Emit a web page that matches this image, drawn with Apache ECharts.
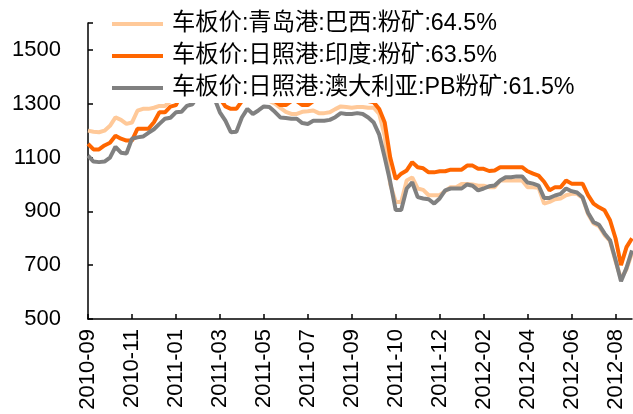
<!DOCTYPE html>
<html>
<head>
<meta charset="utf-8">
<script src="https://cdn.jsdelivr.net/npm/echarts@6/dist/echarts.min.js"></script>
<style>html,body{margin:0;padding:0;background:#fff;}#c{width:633px;height:414px;}</style>
</head>
<body>
<div id="c"></div>
<script>
var tickLabels = ['2010-09','2010-11','2011-01','2011-03','2011-05','2011-07','2011-09','2011-10','2011-12','2012-02','2012-04','2012-06','2012-08'];
var pointsPerTick = 8;
var seriesNames = ['车板价:青岛港:巴西:粉矿:64.5%','车板价:日照港:印度:粉矿:63.5%','车板价:日照港:澳大利亚:PB粉矿:61.5%'];
var brazil = [1200,1196,1194,1200,1218,1249,1240,1225,1230,1274,1281,1281,1285,1292,1292,1310,1340,1370,1400,1420,
  1440,1420,1400,1380,1350,1330,1320,1320,1330,1340,1330,1320,1320,1310,1300,1285,1270,1262,1262,1270,
  1272,1275,1265,1265,1268,1280,1290,1288,1285,1288,1288,1285,1285,1262,1180,1000,935,935,1015,1026,
  985,980,960,960,960,975,990,990,1002,1002,1000,995,995,990,990,1015,1015,1015,1015,1015,
  990,990,988,929,935,945,948,960,965,965,950,890,855,845,812,790,715,650,685,745];
var india = [1151,1130,1130,1145,1155,1181,1170,1163,1163,1207,1207,1207,1231,1268,1268,1289,1295,1340,1380,1400,
  1420,1400,1380,1350,1320,1290,1281,1281,1310,1330,1330,1320,1330,1320,1310,1295,1295,1310,1310,1295,
  1295,1310,1315,1320,1315,1320,1320,1315,1320,1315,1315,1310,1305,1280,1230,1100,1020,1040,1052,1083,
  1064,1060,1045,1045,1049,1049,1055,1055,1055,1070,1070,1058,1058,1050,1052,1064,1064,1064,1064,1064,
  1049,1040,1033,1010,978,990,990,1015,1003,1003,1003,960,929,915,904,867,800,700,767,800];
var australia = [1107,1085,1083,1085,1100,1140,1118,1115,1170,1175,1178,1192,1205,1225,1244,1248,1268,1270,1292,1298,
  1330,1360,1350,1320,1268,1237,1194,1196,1249,1281,1262,1275,1290,1288,1270,1249,1247,1244,1244,1228,
  1225,1237,1237,1237,1240,1250,1265,1262,1262,1265,1262,1249,1230,1185,1100,1010,905,905,985,1008,
  953,948,945,929,948,978,985,985,985,1000,995,978,985,993,996,1015,1027,1027,1030,1030,
  1007,1003,996,950,950,959,965,985,975,970,952,895,860,850,818,793,720,640,690,755];

var categories = [];
for (var i = 0; i < brazil.length; i++) {
  categories.push(tickLabels[Math.floor(i / pointsPerTick)] + '#' + (i % pointsPerTick));
}
var font = "'Liberation Sans', Arial, 'Noto Sans CJK SC', sans-serif";
var chart = echarts.init(document.getElementById('c'), null, {renderer: 'canvas'});
chart.setOption({
  animation: false,
  backgroundColor: '#fff',
  textStyle: {fontFamily: font},
  grid: {left: 88, right: 1, top: 23, bottom: 95, containLabel: false},
  legend: {
    orient: 'vertical', left: 108, top: 0, z: 10,
    backgroundColor: '#fff',
    padding: [12, 10, 3, 4],
    itemGap: 8, itemWidth: 51, itemHeight: 4, icon: 'rect',
    textStyle: {fontSize: 23.3, lineHeight: 24, color: '#000', fontFamily: font, padding: [0, 0, 0, 4]},
    data: seriesNames
  },
  xAxis: {
    type: 'category', data: categories, boundaryGap: false,
    axisLine: {lineStyle: {color: '#000', width: 1.5}},
    axisTick: {inside: true, length: 5, interval: pointsPerTick - 1, lineStyle: {color: '#000', width: 1.5}},
    axisLabel: {interval: pointsPerTick - 1, rotate: 90, margin: 10, fontSize: 22, color: '#000', fontFamily: font,
      formatter: function (v) { return v.split('#')[0]; }},
    splitLine: {show: false}
  },
  yAxis: {
    type: 'value', min: 500, max: 1600, interval: 200,
    axisLine: {show: true, lineStyle: {color: '#000', width: 1.5}},
    axisTick: {show: true, inside: true, length: 5, lineStyle: {color: '#000', width: 1.5}},
    axisLabel: {margin: 27, fontSize: 22, color: '#000', fontFamily: font,
      formatter: function (v) { return v > 1500 ? '' : String(v); }},
    splitLine: {show: false}
  },
  series: [
    {name: seriesNames[0], type: 'line', data: brazil, symbol: 'none', lineStyle: {width: 4, color: '#FFC999'}, itemStyle: {color: '#FFC999'}},
    {name: seriesNames[1], type: 'line', data: india, symbol: 'none', lineStyle: {width: 4, color: '#FF6600'}, itemStyle: {color: '#FF6600'}},
    {name: seriesNames[2], type: 'line', data: australia, symbol: 'none', lineStyle: {width: 4, color: '#808080'}, itemStyle: {color: '#808080'}}
  ]
});
</script>
</body>
</html>
